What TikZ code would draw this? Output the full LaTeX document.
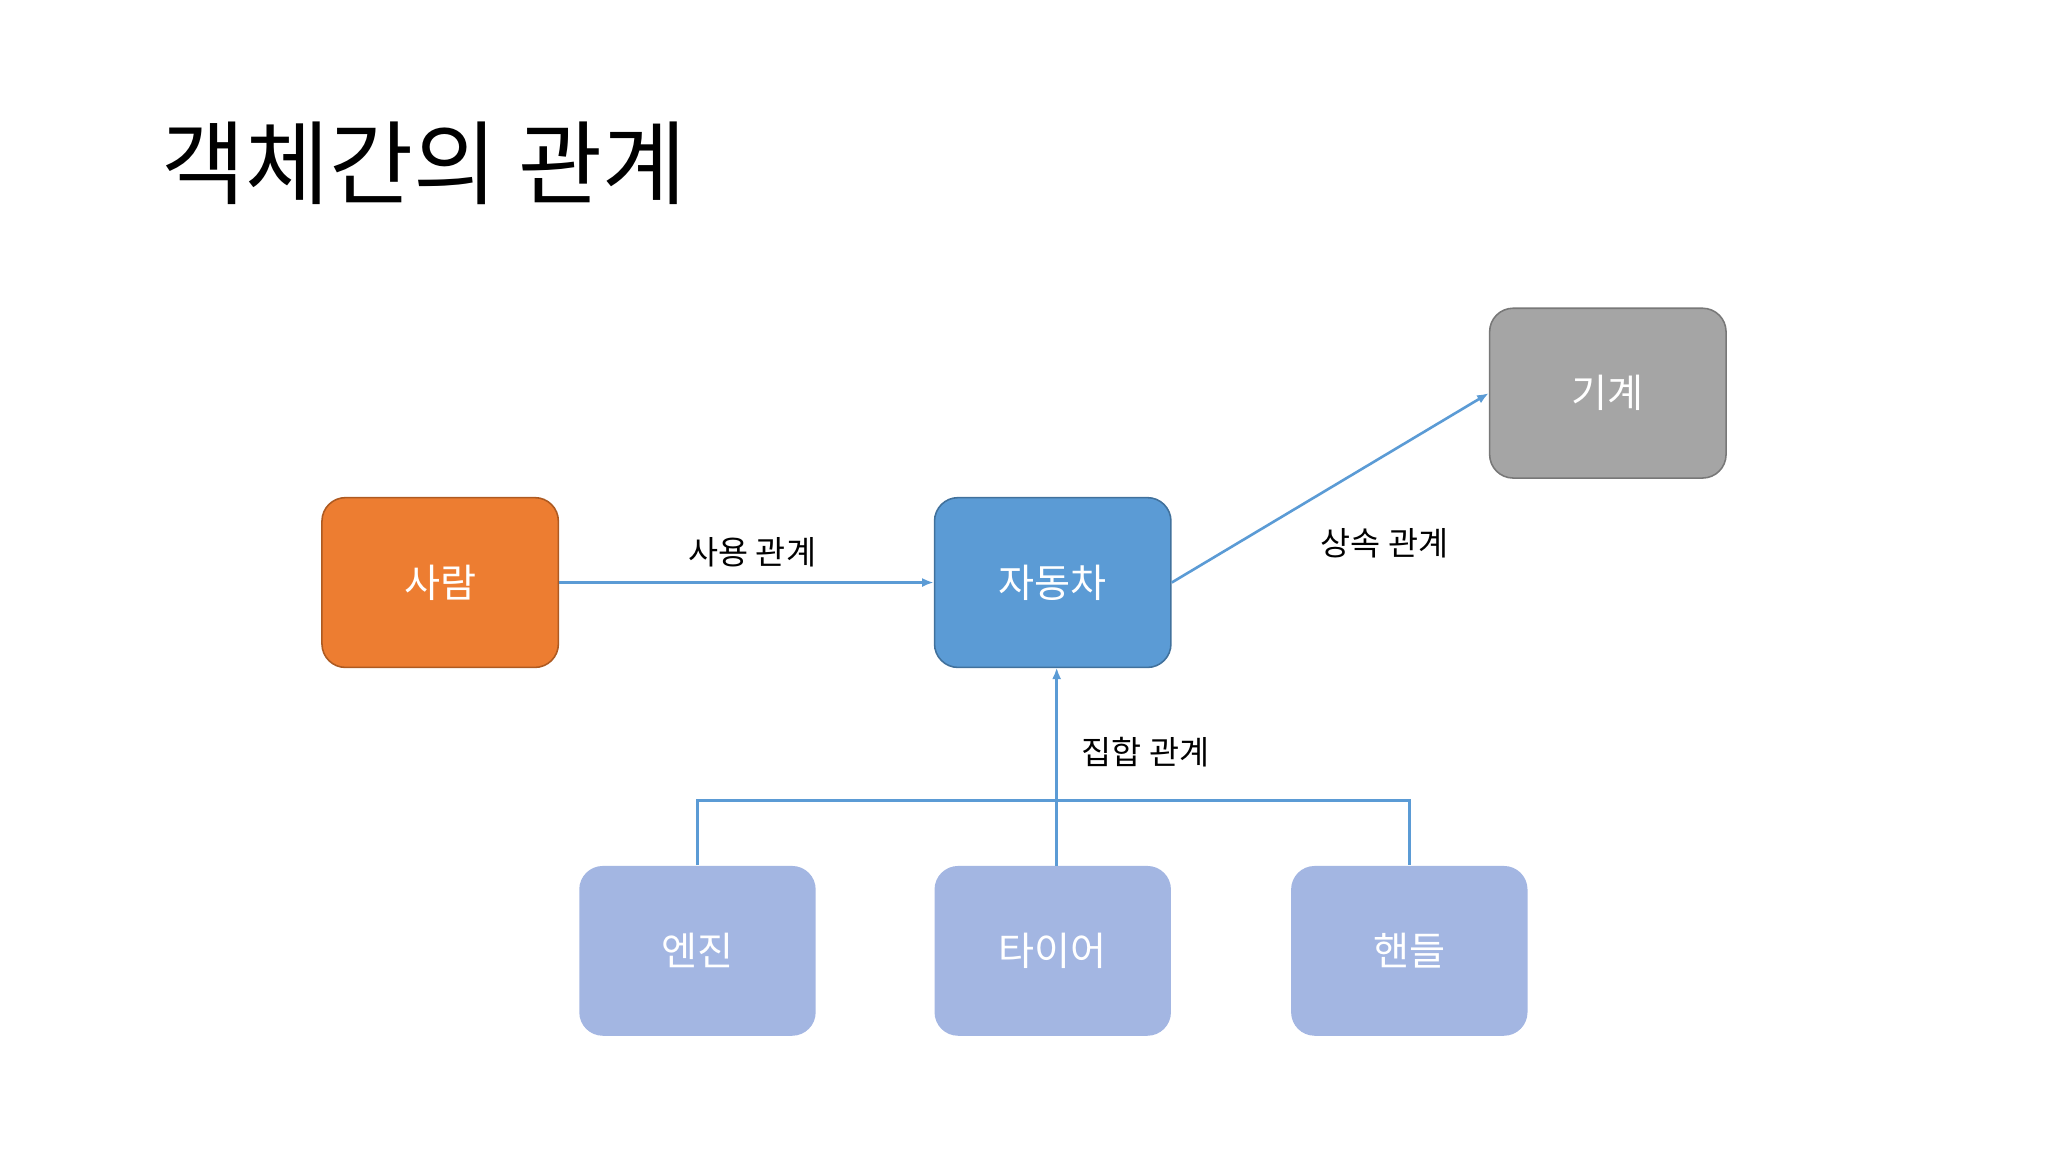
\documentclass[tikz,border=0pt]{standalone}
\usepackage{fontspec}
\setmainfont{Noto Sans CJK KR}
\usetikzlibrary{arrows.meta}
\definecolor{org}{HTML}{ED7D31}\definecolor{orgb}{HTML}{AE5A21}
\definecolor{blu}{HTML}{5B9BD5}\definecolor{blub}{HTML}{41719C}
\definecolor{gry}{HTML}{A5A5A5}\definecolor{gryb}{HTML}{787878}
\definecolor{lbl}{HTML}{A3B6E2}
\tikzset{
 box/.style={rounded corners=18pt,minimum width=181pt,minimum height=130pt,text=white,font=\fontsize{30}{34}\selectfont,line width=1.2pt},
 conn/.style={draw=blu,line width=2pt},
 arr/.style={conn,-{Latex[length=9pt,width=7pt]}},
 lab/.style={font=\fontsize{25}{30}\selectfont}
}
\begin{document}
\begin{tikzpicture}[x=1pt,y=-1pt]
\useasboundingbox (0,0) rectangle (1568,882);
\node[anchor=west,font=\fontsize{70}{80}\selectfont] (t) at (120,125) {객체간의 관계};
\node[box,fill=org,draw=orgb] (p) at (337,446) {사람};
\node[box,fill=blu,draw=blub] (c) at (806,446) {자동차};
\node[box,fill=gry,draw=gryb] (m) at (1231,301) {기계};
\node[box,fill=lbl] (e) at (534,728) {엔진};
\node[box,fill=lbl] (ti) at (806,728) {타이어};
\node[box,fill=lbl] (h) at (1079,728) {핸들};
\draw[arr] (p.east) -- (c.west);
\draw[arr] (c.east) -- (m.west);
\coordinate (cb) at (809,511);
\draw[arr] (809,663) -- (cb);
\draw[conn] (e.north) -- (534,613) -- (1079,613) -- (h.north);
\node[lab] (l1) at (576,423) {사용 관계};
\node[lab] (l2) at (1060,416) {상속 관계};
\node[lab] (l3) at (877,576) {집합 관계};
\end{tikzpicture}
\end{document}
